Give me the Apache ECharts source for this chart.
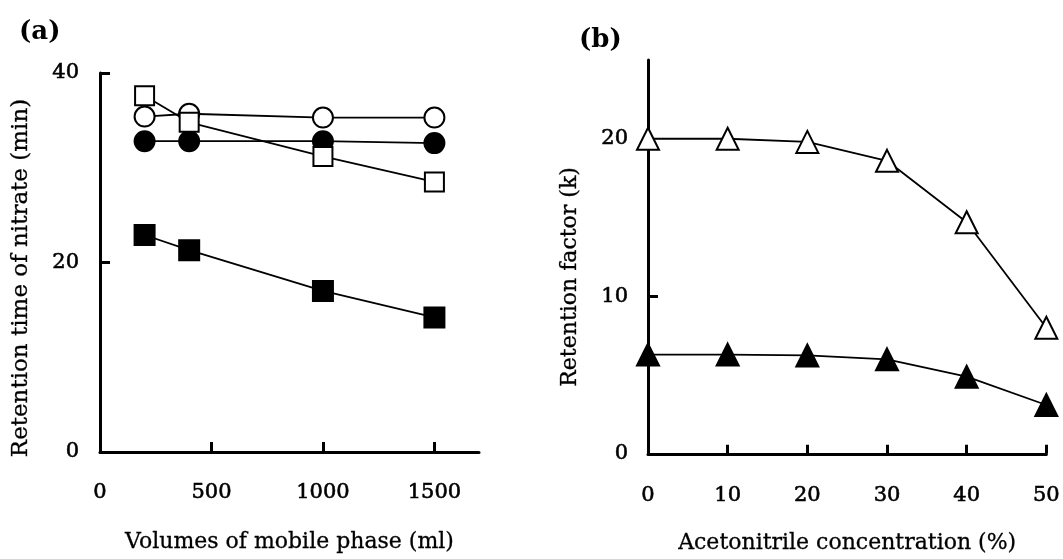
<!DOCTYPE html>
<html>
<head>
<meta charset="utf-8">
<script src="https://cdn.jsdelivr.net/npm/echarts@6/dist/echarts.min.js"></script>
<style>
  html, body { margin: 0; padding: 0; background: #fff; }
  #main { width: 1063px; height: 559px; }
</style>
</head>
<body>
<div id="main"></div>
<script>
// panel (a): retention time vs volume of mobile phase
var volumes = [200, 400, 1000, 1500]
var openCircle = [35.4, 35.7, 35.3, 35.3]
var filledCircle = [32.8, 32.8, 32.8, 32.6]
var openSquare = [37.6, 34.8, 31.2, 28.5]
var filledSquare = [22.9, 21.3, 17.0, 14.2]
var volumeTicks = [500, 1000, 1500]
var volumeLabels = [0, 500, 1000, 1500]
var timeTicks = [0, 20, 40]

// panel (b): retention factor vs acetonitrile
var acetonitrile = [0, 10, 20, 30, 40, 50]
var openTriangle = [20.0, 20.0, 19.8, 18.6, 14.7, 8.0]
var filledTriangle = [6.3, 6.3, 6.25, 6.0, 4.9, 3.1]
var factorTicks = [0, 10, 20]

var font = 'DejaVu Serif'

function pairs (xs, ys) {
  var out = []
  for (var i = 0; i < xs.length; i++) {
    out.push([xs[i], ys[i]])
  }
  return out
}

function line (name, x, y, symbol, size, filled, gridIdx) {
  return {
    name: name,
    type: 'line',
    xAxisIndex: gridIdx,
    yAxisIndex: gridIdx,
    data: pairs(x, y),
    symbol: symbol,
    symbolSize: size,
    showAllSymbol: true,
    clip: false,
    lineStyle: { color: '#000', width: 1.8 },
    itemStyle: {
      color: filled ? '#000' : '#fff',
      borderColor: '#000',
      borderWidth: 2
    },
    emphasis: { disabled: true }
  }
}

// plain numbers, no thousands separator
function plain (v) { return String(v) }

var axisLine = { show: true, lineStyle: { color: '#000', width: 3 } }
// thin text border to get the heavier print look
var tickLabel = { color: '#000', fontFamily: font, fontSize: 21, textBorderColor: '#000', textBorderWidth: 0.6, formatter: plain }
var nameStyle = { color: '#000', fontFamily: font, fontSize: 22, textBorderColor: '#000', textBorderWidth: 0.3 }

var myChart = echarts.init(document.getElementById('main'))
var options = {
  animation: false,
  backgroundColor: '#fff',
  title: [
    { text: '(a)', left: 14, top: 14, textStyle: { fontFamily: font, fontSize: 26, fontWeight: 'bold', color: '#000' } },
    { text: '(b)', left: 574, top: 22, textStyle: { fontFamily: font, fontSize: 26, fontWeight: 'bold', color: '#000' } }
  ],
  grid: [
    { left: 100, top: 73, width: 379, height: 379 },
    { left: 648, top: 60, width: 399, height: 396 }
  ],
  xAxis: [
    {
      type: 'value', gridIndex: 0, min: 0, max: 1700,
      axisLine: axisLine,
      axisTick: { show: true, inside: true, length: 10, lineStyle: { color: '#000', width: 3 }, customValues: volumeTicks },
      axisLabel: Object.assign({ margin: 30, customValues: volumeLabels }, tickLabel),
      splitLine: { show: false },
      name: 'Volumes of mobile phase (ml)', nameLocation: 'middle', nameGap: 79,
      nameTextStyle: nameStyle
    },
    {
      type: 'value', gridIndex: 1, min: 0, max: 50, interval: 10,
      axisLine: axisLine,
      axisTick: { show: true, inside: true, length: 9, lineStyle: { color: '#000', width: 3 } },
      axisLabel: Object.assign({ margin: 31 }, tickLabel),
      splitLine: { show: false },
      name: 'Acetonitrile concentration (%)', nameLocation: 'middle', nameGap: 78,
      nameTextStyle: nameStyle
    }
  ],
  yAxis: [
    {
      type: 'value', gridIndex: 0, min: 0, max: 40,
      axisLine: axisLine,
      axisTick: { show: true, inside: true, length: 10, lineStyle: { color: '#000', width: 3 }, customValues: [20, 40] },
      axisLabel: Object.assign({ margin: 21, customValues: timeTicks }, tickLabel),
      splitLine: { show: false },
      name: 'Retention time of nitrate (min)', nameLocation: 'middle', nameGap: 67,
      nameTextStyle: Object.assign({}, nameStyle, { fontSize: 23, padding: [0, 31, 0, 0] })
    },
    {
      type: 'value', gridIndex: 1, min: 0, max: 25,
      axisLine: axisLine,
      axisTick: { show: true, inside: true, length: 10, lineStyle: { color: '#000', width: 3 }, customValues: [10] },
      axisLabel: Object.assign({ margin: 20, customValues: factorTicks }, tickLabel),
      splitLine: { show: false },
      name: 'Retention factor (k)', nameLocation: 'middle', nameGap: 67,
      nameTextStyle: Object.assign({ padding: [0, 40, 0, 0] }, nameStyle)
    }
  ],
  series: [
    line('open circle', volumes, openCircle, 'circle', 20, false, 0),
    line('filled circle', volumes, filledCircle, 'circle', 20, true, 0),
    line('open square', volumes, openSquare, 'rect', 19, false, 0),
    line('filled square', volumes, filledSquare, 'rect', 20, true, 0),
    line('open triangle', acetonitrile, openTriangle, 'triangle', 22, false, 1),
    line('filled triangle', acetonitrile, filledTriangle, 'triangle', 22, true, 1)
  ]
}
myChart.setOption(options)
</script>
</body>
</html>
